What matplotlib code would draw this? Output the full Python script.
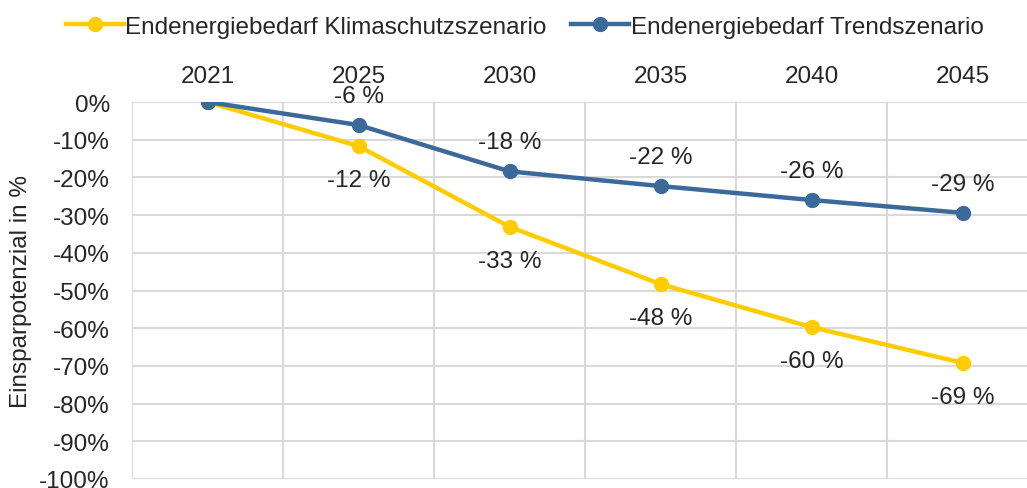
import matplotlib
matplotlib.use("Agg")
import matplotlib.pyplot as plt

years = ["2021", "2025", "2030", "2035", "2040", "2045"]
klima = [0, -11.7, -33.1, -48.3, -59.7, -69.2]
trend = [0, -6.1, -18.4, -22.3, -26.0, -29.4]
yticks = [0, -10, -20, -30, -40, -50, -60, -70, -80, -90, -100]

plt.rcParams['font.family'] = ['Liberation Sans', 'DejaVu Sans']
txt = '#262626'
c_k = '#FFCC00'
c_t = '#3B6A9A'
fs = 17.5

fig = plt.figure(figsize=(10.27, 4.89), dpi=100)
ax = fig.add_axes([132/1027, 1 - 480/489, 906/1027, (480 - 103)/489])

x = list(range(len(years)))
ax.plot(x, klima, color=c_k, lw=3.2, marker='o', ms=10, label='Endenergiebedarf Klimaschutzszenario', zorder=3)
ax.plot(x, trend, color=c_t, lw=3.2, marker='o', ms=10, label='Endenergiebedarf Trendszenario', zorder=4)

for i in range(1, len(years)):
    ax.annotate(f"{round(klima[i])} %", (x[i], klima[i]), xytext=(0, -34), textcoords='offset pixels',
                ha='center', va='center', fontsize=fs, color=txt)
    ax.annotate(f"{round(trend[i])} %", (x[i], trend[i]), xytext=(0, 29), textcoords='offset pixels',
                ha='center', va='center', fontsize=fs, color=txt)

ax.set_xlim(-0.5, len(years) - 0.5)
ax.set_ylim(-100, 0)
ax.set_yticks(yticks)
ax.set_yticklabels([f"{v}%" for v in yticks])
ax.set_xticks([i + 0.5 for i in range(-1, len(years))], minor=False)
ax.set_xticklabels([])
ax.set_xticks(x, minor=True)
ax.set_xticklabels(years, minor=True)
ax.xaxis.tick_top()
ax.tick_params(axis='x', which='both', length=0, labelsize=fs, colors=txt, pad=11)
ax.tick_params(axis='y', length=0, labelsize=fs, colors=txt, pad=16)
ax.grid(True, which='major', color='#D9D9D9', lw=1.5)
ax.set_axisbelow(True)
for s in ax.spines.values():
    s.set_visible(False)
ax.set_ylabel('Einsparpotenzial in %', fontsize=fs, color=txt, labelpad=5)

fig.legend(loc='upper left', bbox_to_anchor=(44/1027, 1.01), ncol=2, frameon=False, fontsize=fs,
           handlelength=2.4, handletextpad=0.05, columnspacing=1.0, labelcolor=txt)

fig.savefig('out.png', dpi=100)
